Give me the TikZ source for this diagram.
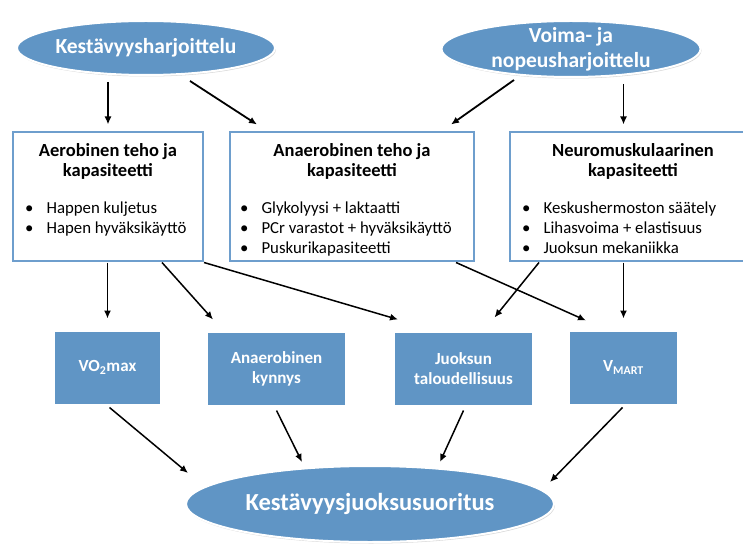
\documentclass[tikz,border=0pt]{standalone}
\usepackage{fontspec}
\setmainfont{Carlito}
\usetikzlibrary{shapes.geometric,shadows,arrows.meta,calc}
\definecolor{fillblue}{RGB}{96,149,197}
\definecolor{lineblue}{RGB}{110,158,205}

\begin{document}
\begin{tikzpicture}[x=1pt,y=-1pt,
    oval/.style={ellipse,fill=fillblue,draw=white,line width=2pt,text=white,align=center,inner sep=0pt,
      drop shadow={opacity=0.3,shadow xshift=1pt,shadow yshift=-1.5pt}},
    capbox/.style={rectangle,draw=lineblue,line width=2pt,fill=white,minimum height=128pt},
    capttl/.style={anchor=north,align=center,inner sep=0pt,font=\fontsize{18.5}{20}\selectfont\bfseries},
    caplist/.style={anchor=north west,inner sep=0pt,font=\fontsize{16.8}{20}\selectfont},
    factor/.style={rectangle,fill=fillblue,draw=white,line width=3pt,text=white,align=center,
      minimum height=75pt,font=\fontsize{17}{20}\selectfont\bfseries,
      drop shadow={opacity=0.3,shadow xshift=1pt,shadow yshift=-1.5pt}},
    arr/.style={-{Latex[length=8pt,width=7pt]},line width=1.5pt},
    arrv/.style={arr,shorten <=6pt,shorten >=7pt}]
  \useasboundingbox (0,0) rectangle (743,545);

  \node[oval,minimum width=258pt,minimum height=54pt,font=\fontsize{21.5}{25}\selectfont\bfseries] (kest) at (146,48) {Kestävyysharjoittelu};
  \node[oval,minimum width=259pt,minimum height=56pt,inner ysep=-9pt,font=\fontsize{21.5}{25}\selectfont\bfseries] (voima) at (571,49) {Voima- ja\\nopeusharjoittelu};

  \node[capbox,minimum width=190pt] (aero) at (108,196.5) {};
  \node[capbox,minimum width=244pt] (anaer) at (352,196.5) {};
  \node[capbox,minimum width=240pt] (neuro) at (630,196.5) {};

  \node[capttl] (aerot) at ($(aero.north)+(0,12)$) {Aerobinen teho ja\\kapasiteetti};
  \node[capttl] (anaert) at ($(anaer.north)+(0,12)$) {Anaerobinen teho ja\\kapasiteetti};
  \node[capttl] (neurot) at ($(neuro.north)+(3,12)$) {Neuromuskulaarinen\\kapasiteetti};

  \node[caplist] (aerol) at ($(aero.north west)+(13,68)$) {\begin{tabular}{@{}l@{\hspace{13pt}}l@{}}
    \textbullet & Happen kuljetus\\
    \textbullet & Hapen hyväksikäyttö
  \end{tabular}};
  \node[caplist] (anaerl) at ($(anaer.north west)+(11,68)$) {\begin{tabular}{@{}l@{\hspace{13pt}}l@{}}
    \textbullet & Glykolyysi + laktaatti\\
    \textbullet & PCr varastot + hyväksikäyttö\\
    \textbullet & Puskurikapasiteetti
  \end{tabular}};
  \node[caplist] (neurol) at ($(neuro.north west)+(13,68)$) {\begin{tabular}{@{}l@{\hspace{13pt}}l@{}}
    \textbullet & Keskushermoston säätely\\
    \textbullet & Lihasvoima + elastisuus\\
    \textbullet & Juoksun mekaniikka
  \end{tabular}};

  \node[factor,minimum width=108pt] (vo2) at (107.5,367.5) {VO\textsubscript{2}max};
  \node[factor,minimum width=140pt] (kynnys) at (276.5,368.5) {Anaerobinen\\kynnys};
  \node[factor,minimum width=140pt] (talous) at (463.5,368.5) {Juoksun\\taloudellisuus};
  \node[factor,minimum width=110pt] (vmart) at (623.5,367.5) {V\textsubscript{MART}};

  \node[oval,minimum width=368pt,minimum height=76pt,font=\fontsize{24.5}{28}\selectfont\bfseries] (suoritus) at (370,504) {Kestävyysjuoksusuoritus};

  \draw[arrv,line width=1.8pt] (aero.north |- kest.south) -- (aero.north);
  \draw[arr,line width=1.8pt] ($(kest.south)+(44,5)$) -- ($(anaer.north west)+(28,-7)$);
  \draw[arr,line width=1.8pt] ($(voima.south)+(-57,2)$) -- ($(anaer.north east)+(-24,-7)$);
  \draw[arrv,line width=1.8pt] (vmart.north |- voima.south) -- (vmart.north |- neuro.north);

  \draw[arrv,shorten <=1pt,shorten >=10pt] (vo2.north |- aero.south) -- (vo2.north);
  \draw[arr] ($(aero.south)+(54,1)$) -- ($(kynnys.north west)+(8,-10)$);
  \draw[arr] ($(aero.south east)+(0,1)$) -- ($(talous.north west)+(6,-10)$);
  \draw[arr] ($(anaer.south east)+(-19,1)$) -- ($(vmart.north west)+(19,-8)$);
  \draw[arr] ($(neuro.south west)+(30,1)$) -- ($(talous.north)+(31,-12)$);
  \draw[arrv,shorten <=1pt,shorten >=10pt] (vmart.north |- neuro.south) -- (vmart.north);

  \draw[arr] ($(vo2.south)+(2,1)$) -- ($(suoritus)+(-182,-31)$);
  \draw[arr] ($(kynnys.south)+(0,3)$) -- ($(suoritus)+(-68,-42)$);
  \draw[arr] ($(talous.south)+(0,3)$) -- ($(suoritus)+(70,-42)$);
  \draw[arr] ($(vmart.south)+(-1,1)$) -- ($(suoritus)+(180,-22)$);
\end{tikzpicture}
\end{document}
